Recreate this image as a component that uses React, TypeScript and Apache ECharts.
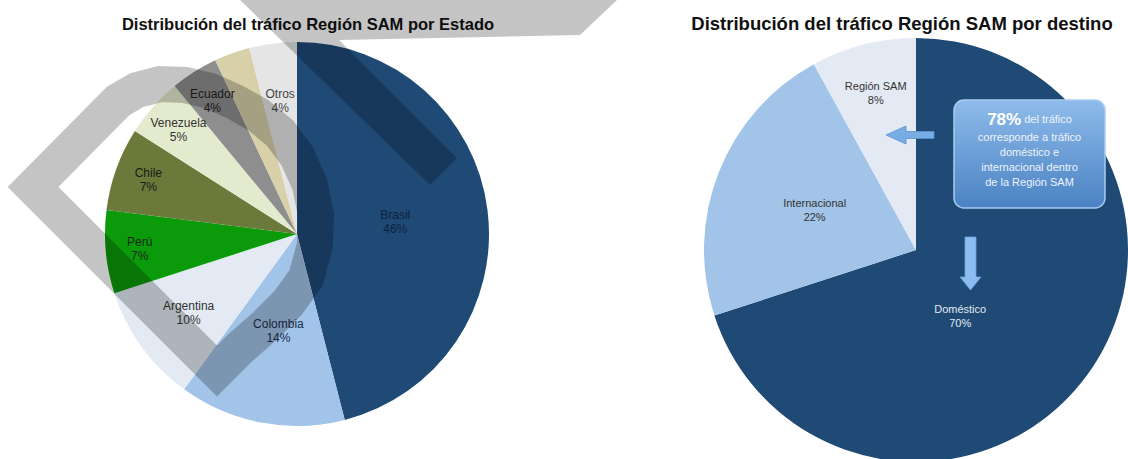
import React, { useEffect, useRef } from "react";
import * as echarts from "echarts";

// ---- Data ----
const leftTitle = "Distribución del tráfico Región SAM por Estado";
const leftNames = ["Brasil", "Colombia", "Argentina", "Perú", "Chile", "Venezuela", "Ecuador", "Panamá", "Otros"];
const leftValues = [46, 14, 10, 7, 7, 5, 4, 3, 4];
const leftColors = ["#1f4a75", "#a2c4e8", "#e3eaf4", "#0a9a0a", "#6b7a3b", "#e4eacd", "#8e8e8e", "#d8d0a9", "#e5e5e5"];
const leftLabelColors = ["#0c2340", "#1c2e4a", "#333333", "#1a2a1a", "#1a1a1a", "#333333", "#222222", "#444444", "#444444"];
const leftLabelRadius = [95.5, 95.5, 131, 155, 155, 155, 155, 166, 131];

const rightTitle = "Distribución del tráfico Región SAM por destino";
const rightNames = ["Doméstico", "Internacional", "Región SAM"];
const rightValues = [70, 22, 8];
const rightColors = ["#1f4a75", "#a2c4e8", "#e3eaf4"];
const rightLabelColors = ["#e3e8f0", "#333333", "#333333"];
const rightLabelRadius = [106, 106, 159];

const calloutHead = "78%";
const calloutHeadRest = " del tráfico";
const calloutLines = ["corresponde a tráfico", "doméstico e", "internacional dentro", "de la Región SAM"];

const FONT = "'Liberation Sans', Arial, sans-serif";

function pieSeries(
  names: string[],
  values: number[],
  colors: string[],
  labelColors: string[],
  labelRadius: number[],
  center: number[],
  R: number,
  fontSize: number,
  layoutShift?: { index: number; dx: number; dy: number }
) {
  const series: any[] = [];
  series.push({
    type: "pie",
    center,
    radius: [0, R],
    startAngle: 90,
    clockwise: true,
    silent: true,
    label: { show: false },
    labelLine: { show: false },
    emphasis: { disabled: true },
    data: names.map((n, i) => ({ name: n, value: values[i], itemStyle: { color: colors[i] } })),
  });
  const radii = Array.from(new Set(labelRadius));
  radii.forEach((r) => {
    const s: any = {
      type: "pie",
      center,
      radius: [Math.max(0, 2 * r - R), R],
      startAngle: 90,
      clockwise: true,
      silent: true,
      avoidLabelOverlap: false,
      emphasis: { disabled: true },
      itemStyle: { color: "rgba(0,0,0,0)" },
      labelLine: { show: false },
      label: {
        position: "inside",
        fontSize,
        lineHeight: 14,
        fontFamily: FONT,
        formatter: (p: any) => `${p.name}\n${p.value}%`,
      },
      data: names.map((n, i) => ({
        name: n,
        value: values[i],
        itemStyle: { color: "rgba(0,0,0,0)" },
        label: { show: labelRadius[i] === r, color: labelColors[i] },
      })),
    };
    if (layoutShift && labelRadius[layoutShift.index] === r) {
      s.labelLayout = (params: any) =>
        params.dataIndex === layoutShift.index ? { dx: layoutShift.dx, dy: layoutShift.dy } : {};
    }
    series.push(s);
  });
  return series;
}

export default function App() {
  const ref = useRef<HTMLDivElement>(null);
  useEffect(() => {
    if (!ref.current) return;
    const chart = echarts.init(ref.current, null, { renderer: "svg" });
    const wm = "rgba(0,0,0,0.23)";
    const option: any = {
      animation: false,
      backgroundColor: "#ffffff",
      title: [
        {
          text: leftTitle,
          left: 303,
          top: 10,
          textAlign: "center",
          textStyle: { fontSize: 16.5, fontWeight: "bold", color: "#111", fontFamily: FONT },
        },
        {
          text: rightTitle,
          left: 897,
          top: 9,
          textAlign: "center",
          textStyle: { fontSize: 18.5, fontWeight: "bold", color: "#111", fontFamily: FONT },
        },
      ],
      series: [
        ...pieSeries(leftNames, leftValues, leftColors, leftLabelColors, leftLabelRadius, [297, 234], 192, 12),
        ...pieSeries(rightNames, rightValues, rightColors, rightLabelColors, rightLabelRadius, [916, 250], 212, 11, {
          index: 0,
          dx: -44,
          dy: 2,
        }),
      ],
      graphic: [
        // callout box
        {
          type: "rect",
          z: 50,
          shape: { x: 954, y: 100, width: 151, height: 108, r: 10 },
          style: {
            fill: new echarts.graphic.LinearGradient(0, 0, 0, 1, [
              { offset: 0, color: "#8ebbea" },
              { offset: 1, color: "#4a82c3" },
            ]),
            stroke: "#a9cbf0",
            lineWidth: 1.5,
          },
        },
        {
          type: "text",
          z: 51,
          x: 1029.5,
          y: 109,
          style: {
            text:
              `{big|${calloutHead}}{sm|${calloutHeadRest}}\n` + calloutLines.map((l) => `{sm|${l}}`).join("\n"),
            align: "center",
            verticalAlign: "top",
            fill: "#f2f6fb",
            fontFamily: FONT,
            rich: {
              big: { fontSize: 17, fontWeight: "bold", fill: "#ffffff", lineHeight: 20, fontFamily: FONT },
              sm: { fontSize: 11, fill: "#eef3fa", lineHeight: 15, fontFamily: FONT },
            },
          },
        },
        // left arrow
        {
          type: "polygon",
          z: 50,
          shape: {
            points: [
              [886, 135],
              [906, 126],
              [906, 131.5],
              [934, 131.5],
              [934, 138.5],
              [906, 138.5],
              [906, 144],
            ],
          },
          style: { fill: "#78ace4", stroke: "#5d92cf", lineWidth: 0.8 },
        },
        // down arrow
        {
          type: "polygon",
          z: 50,
          shape: {
            points: [
              [970.5, 290],
              [960, 277],
              [965, 277],
              [965, 237],
              [976, 237],
              [976, 277],
              [981, 277],
            ],
          },
          style: { fill: "#8dbdf0", stroke: "#6ea3de", lineWidth: 0.8 },
        },
        // watermark: diagonal band + top band
        {
          type: "polygon",
          z: 100,
          silent: true,
          shape: {
            points: [
              [240, 0],
              [617, 0],
              [580, 35],
              [339, 40],
              [457, 158],
              [430, 185],
            ],
          },
          style: { fill: wm },
        },
        // watermark: "D" shape
        {
          type: "polygon",
          z: 100,
          silent: true,
          shape: {
            points: [
              [217, 371],
              [33, 187],
              [118, 101],
              [137, 90],
              [160, 84],
              [185, 85],
              [210, 91],
              [235, 102],
              [258, 115],
              [280, 133],
              [297, 156],
              [310, 185],
              [316, 215],
              [315, 245],
              [306, 278],
              [288, 303],
              [265, 326],
              [240, 348],
            ],
          },
          style: { fill: "none", stroke: wm, lineWidth: 36, lineJoin: "miter", miterLimit: 10 },
        },
      ],
    };
    chart.setOption(option);
    return () => chart.dispose();
  }, []);
  return <div ref={ref} style={{ position: "fixed", left: 0, top: 0, width: 1128, height: 459 }} />;
}
